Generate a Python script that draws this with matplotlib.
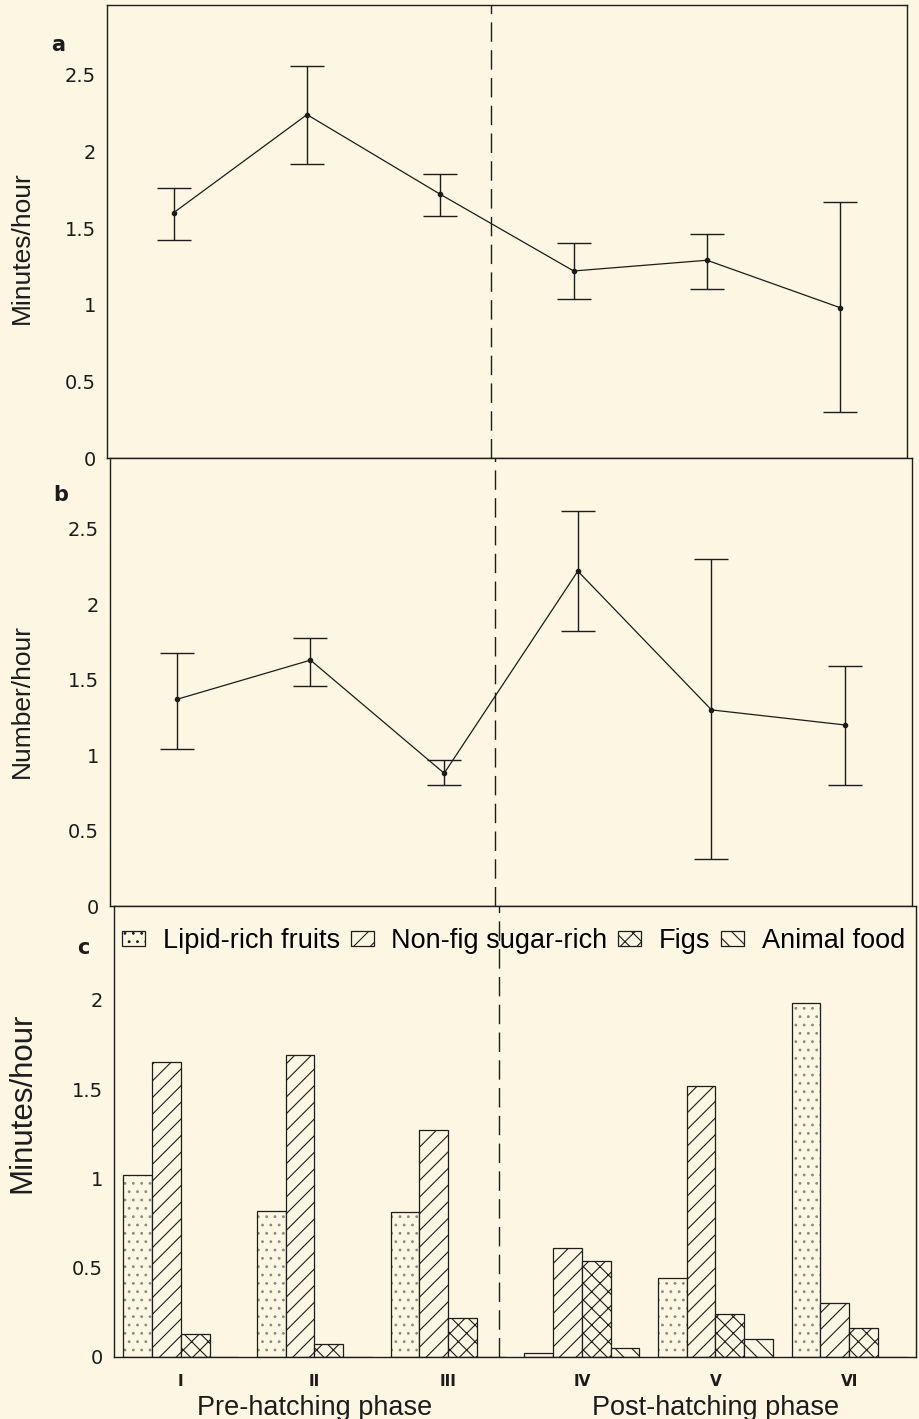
import numpy as np
import matplotlib
matplotlib.use('Agg')
import matplotlib.pyplot as plt

# phases of the breeding cycle
phases = ['I', 'II', 'III', 'IV', 'V', 'VI']

# a: foraging time (minutes/hour), mean with error bar limits
a_mean = [1.60, 2.24, 1.72, 1.22, 1.29, 0.98]
a_upper = [1.76, 2.56, 1.85, 1.40, 1.46, 1.67]
a_lower = [1.42, 1.92, 1.58, 1.04, 1.10, 0.30]

# b: feeding visits (number/hour)
b_mean = [1.37, 1.63, 0.88, 2.22, 1.30, 1.20]
b_upper = [1.68, 1.78, 0.97, 2.62, 2.30, 1.59]
b_lower = [1.04, 1.46, 0.80, 1.82, 0.31, 0.80]

# c: minutes/hour by food type
food_types = ['Lipid-rich fruits', 'Non-fig sugar-rich', 'Figs', 'Animal food']
lipid = [1.02, 0.82, 0.81, 0.02, 0.44, 1.98]
sugar = [1.65, 1.69, 1.27, 0.61, 1.52, 0.30]
figs = [0.13, 0.07, 0.22, 0.54, 0.24, 0.16]
animal = [0.0, 0.0, 0.0, 0.05, 0.10, 0.0]

yticks = [0, 0.5, 1, 1.5, 2, 2.5]
ytick_labels = ['0', '0.5', '1', '1.5', '2', '2.5']

bg = '#fcf6e3'
ink = '#1c1c1c'
W, H = 920, 1419

plt.rcParams['hatch.linewidth'] = 0.8


def add_box(left, top, right, bottom):
    return fig.add_axes([left / W, 1 - bottom / H, (right - left) / W, (bottom - top) / H])


fig = plt.figure(figsize=(9.2, 14.19), dpi=100, facecolor=bg)
ax_a = add_box(107, 5, 907, 458)
ax_b = add_box(110, 458, 912, 906)
ax_c = add_box(114, 906, 916, 1357)

x = np.arange(1, len(phases) + 1)
split = 3.38  # pre / post hatching boundary

for ax, top, nt in [(ax_a, 2.955, 6), (ax_b, 2.97, 6), (ax_c, 2.525, 5)]:
    ax.set_facecolor(bg)
    ax.set_xlim(0.5, 6.5)
    ax.set_ylim(0, top)
    ax.set_yticks(yticks[:nt])
    ax.set_yticklabels(ytick_labels[:nt])
    ax.tick_params(length=0, pad=8, labelsize=14, colors=ink)
    for s in ax.spines.values():
        s.set_linewidth(1.0)
        s.set_color(ink)
    ax.axvline(split, color=ink, lw=1.0, ls=(0, (14, 6)), zorder=0)

for ax, mean, lo, hi in [(ax_a, a_mean, a_lower, a_upper), (ax_b, b_mean, b_lower, b_upper)]:
    mean = np.array(mean)
    err = [mean - np.array(lo), np.array(hi) - mean]
    ax.errorbar(x, mean, yerr=err, fmt='-o', color=ink, lw=0.9, ms=3,
                elinewidth=1.0, capsize=12, capthick=1.0)
    ax.set_xticks([])

# bars
w = 0.215
series = [lipid, sugar, figs, animal]
hatches = ['..', '//', 'xx', '\\\\']
hatch_colors = ['#8a8a80', ink, ink, ink]
for k, (vals, h, hc, lab) in enumerate(zip(series, hatches, hatch_colors, food_types)):
    pos = x + (k - 1.5) * w
    ax_c.bar(pos, vals, w, facecolor=bg, edgecolor=hc, hatch=h, lw=0)
    ax_c.bar(pos, vals, w, facecolor='none', edgecolor=ink, lw=0.9)
    # legend proxy
    ax_c.bar([0], [0], 0, facecolor=bg, edgecolor=ink, hatch=h, lw=0.9, label=lab)
ax_c.set_xticks(x)
ax_c.set_xticklabels(phases, fontsize=11, fontweight='bold')
ax_c.tick_params(axis='x', pad=12)

ax_c.legend(loc='center left', bbox_to_anchor=(0.01, 0.922), ncol=4, frameon=False,
            prop={'family': 'Liberation Sans', 'size': 19.5},
            handlelength=0.85, handleheight=0.45, handletextpad=0.65,
            columnspacing=0.4, borderpad=0, borderaxespad=0)

# phase names under the axis
tr = ax_c.get_xaxis_transform()
ax_c.text(2, -0.113, 'Pre-hatching phase', transform=tr, ha='center', va='center',
          fontsize=19.5, family='Liberation Sans', color=ink)
ax_c.text(5, -0.113, 'Post-hatching phase', transform=tr, ha='center', va='center',
          fontsize=19.5, family='Liberation Sans', color=ink)

# axis titles and panel letters
for py, txt, fs in [(248, 'Minutes/hour', 19), (701, 'Number/hour', 19), (1103, 'Minutes/hour', 22.5)]:
    fig.text(22 / W, 1 - py / H, txt, rotation=90, ha='center', va='center',
             fontsize=fs, family='Liberation Sans', color=ink)
for px, py, letter in [(58, 45, 'a'), (61, 495, 'b'), (83, 948, 'c')]:
    fig.text(px / W, 1 - py / H, letter, ha='center', va='center',
             fontsize=15, fontweight='bold', color=ink)

fig.savefig('out.png', dpi=100, facecolor=bg)
